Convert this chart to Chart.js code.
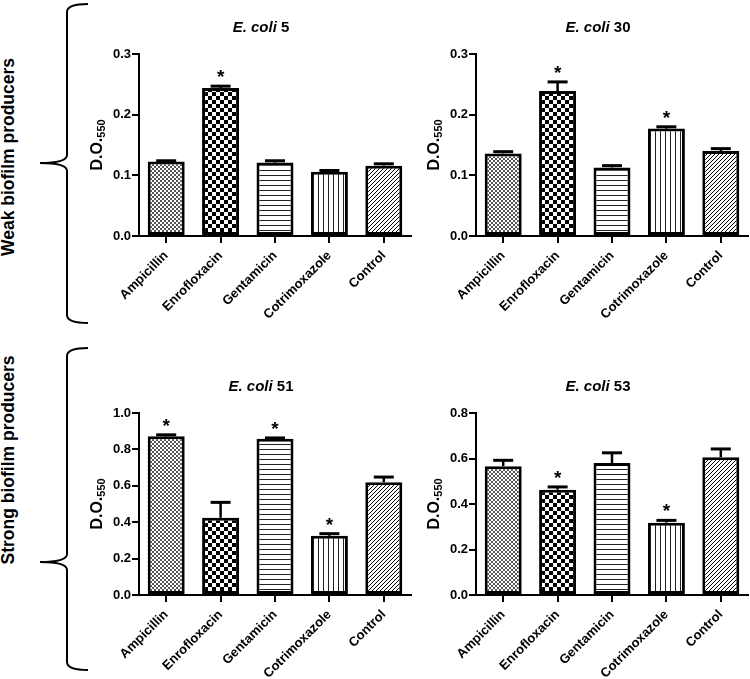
<!DOCTYPE html>
<html>
<head>
<meta charset="utf-8">
<script src="https://cdn.jsdelivr.net/npm/chart.js@4.4.1/dist/chart.umd.min.js"></script>
<style>
  html, body { margin: 0; padding: 0; background: #fff; overflow: hidden; }
  #wrap { position: relative; width: 750px; height: 679px; }
  canvas { position: absolute; }
  svg { position: absolute; left: 0; top: 0; }
</style>
</head>
<body>
<div id="wrap">
  <svg width="90" height="679">
    <path d="M88 4 Q67 4 67 12 L67 155 Q67 163 40 163 Q67 163 67 171 L67 315 Q67 323 88 323" fill="none" stroke="#000" stroke-width="2"/>
    <path d="M88 348 Q67 348 67 356 L67 554 Q67 562 40 562 Q67 562 67 570 L67 662 Q67 670 88 670" fill="none" stroke="#000" stroke-width="2"/>
    <text transform="translate(14,157) rotate(-90)" text-anchor="middle" font-family="Liberation Sans, Arial, sans-serif" font-weight="bold" font-size="17.5">Weak biofilm producers</text>
    <text transform="translate(14,460) rotate(-90)" text-anchor="middle" font-family="Liberation Sans, Arial, sans-serif" font-weight="bold" font-size="17.5">Strong biofilm producers</text>
  </svg>
  <canvas id="c5" width="330" height="326" style="left:88px;top:0px"></canvas>
  <canvas id="c30" width="325" height="326" style="left:425px;top:0px"></canvas>
  <canvas id="c51" width="330" height="326" style="left:88px;top:359px"></canvas>
  <canvas id="c53" width="325" height="326" style="left:425px;top:359px"></canvas>
</div>
<script>
// treatments
const drugs = ['Ampicillin', 'Enrofloxacin', 'Gentamicin', 'Cotrimoxazole', 'Control'];

// D.O.550 means, SEM and significance per strain
const ecoli5 = [0.123, 0.244, 0.121, 0.106, 0.116];
const ecoli5Err = [0.001, 0.003, 0.003, 0.002, 0.003];
const ecoli5Star = [false, true, false, false, false];

const ecoli30 = [0.136, 0.239, 0.113, 0.177, 0.140];
const ecoli30Err = [0.003, 0.015, 0.003, 0.003, 0.004];
const ecoli30Star = [false, true, false, true, false];

const ecoli51 = [0.872, 0.424, 0.858, 0.325, 0.620];
const ecoli51Err = [0.008, 0.085, 0.005, 0.012, 0.028];
const ecoli51Star = [true, false, true, true, false];

const ecoli53 = [0.566, 0.463, 0.580, 0.318, 0.606];
const ecoli53Err = [0.026, 0.012, 0.045, 0.010, 0.036];
const ecoli53Star = [false, true, false, true, false];

const FONT = "'Liberation Sans', Arial, sans-serif";
Chart.defaults.font.family = FONT;
Chart.defaults.color = '#000';

function tile(size, draw) {
  const c = document.createElement('canvas');
  c.width = size;
  c.height = size;
  const g = c.getContext('2d');
  g.fillStyle = '#fff';
  g.fillRect(0, 0, size, size);
  g.fillStyle = '#000';
  draw(g, size);
  return g.createPattern(c, 'repeat');
}

const fills = [
  tile(4, (g) => { g.fillStyle = '#555'; g.fillRect(0, 0, 2, 2); g.fillRect(2, 2, 2, 2); }),
  tile(8, (g) => { g.fillRect(0, 0, 4, 4); g.fillRect(4, 4, 4, 4); }),
  tile(5, (g) => { g.fillStyle = '#222'; g.fillRect(0, 0, 5, 1); }),
  tile(5, (g) => { g.fillStyle = '#222'; g.fillRect(0, 0, 1, 5); }),
  tile(4, (g) => { for (let i = 0; i < 4; i++) g.fillRect(i, 3 - i, 1, 1); }),
];

// title, y label, error bars and asterisks
const extras = {
  id: 'extras',
  afterDraw(chart, args, opts) {
    const ctx = chart.ctx;
    const area = chart.chartArea;
    const y = chart.scales.y;
    const meta = chart.getDatasetMeta(0);
    ctx.save();
    ctx.fillStyle = '#000';
    ctx.strokeStyle = '#000';

    // title
    ctx.textBaseline = 'middle';
    ctx.textAlign = 'left';
    ctx.font = 'italic bold 15px ' + FONT;
    const w1 = ctx.measureText('E. coli').width;
    ctx.font = 'bold 15px ' + FONT;
    const rest = ' ' + opts.strain;
    const w2 = ctx.measureText(rest).width;
    const tx = area.left + 122 - (w1 + w2) / 2;
    const ty = area.top - 26;
    ctx.font = 'italic bold 15px ' + FONT;
    ctx.fillText('E. coli', tx, ty);
    ctx.font = 'bold 15px ' + FONT;
    ctx.fillText(rest, tx + w1, ty);

    // y axis label D.O.550
    ctx.save();
    ctx.translate(area.left - 41, (area.top + area.bottom) / 2);
    ctx.rotate(-Math.PI / 2);
    ctx.font = 'bold 16px ' + FONT;
    const a = ctx.measureText('D.O.').width;
    ctx.font = 'bold 11px ' + FONT;
    const b = ctx.measureText('550').width;
    ctx.textBaseline = 'middle';
    ctx.font = 'bold 16px ' + FONT;
    ctx.fillText('D.O.', -(a + b) / 2, 0);
    ctx.font = 'bold 11px ' + FONT;
    ctx.fillText('550', -(a + b) / 2 + a, 4);
    ctx.restore();

    // error bars
    ctx.lineWidth = 2.5;
    ctx.textAlign = 'center';
    ctx.textBaseline = 'alphabetic';
    ctx.font = 'bold 19px ' + FONT;
    meta.data.forEach((bar, i) => {
      const top = y.getPixelForValue(opts.means[i] + opts.errs[i]);
      const base = y.getPixelForValue(opts.means[i]);
      ctx.beginPath();
      ctx.moveTo(bar.x, base);
      ctx.lineTo(bar.x, top);
      ctx.stroke();
      ctx.lineWidth = 3;
      ctx.beginPath();
      ctx.moveTo(bar.x - 10, top);
      ctx.lineTo(bar.x + 10, top);
      ctx.stroke();
      ctx.lineWidth = 2.5;
      if (opts.stars[i]) {
        ctx.fillText('*', bar.x, top - 3);
      }
    });
    ctx.restore();
  },
};

function makeChart(id, strain, means, errs, stars, yMax) {
  return new Chart(document.getElementById(id), {
    type: 'bar',
    data: {
      labels: drugs,
      datasets: [{
        data: means,
        backgroundColor: fills,
        borderColor: '#000',
        borderWidth: 3,
        borderSkipped: false,
        categoryPercentage: 1,
        barPercentage: 0.68,
      }],
    },
    options: {
      responsive: false,
      animation: false,
      layout: { padding: { top: 54, right: id === 'c5' || id === 'c51' ? 7 : 2 } },
      plugins: {
        legend: { display: false },
        tooltip: { enabled: false },
        title: { display: false },
        extras: { strain, means, errs, stars },
      },
      scales: {
        x: {
          offset: true,
          grid: { offset: false, drawOnChartArea: false, tickLength: 7, color: '#000', lineWidth: 2 },
          border: { color: '#000', width: 2 },
          ticks: { maxRotation: 45, minRotation: 45, autoSkip: false, padding: 5, font: { size: 13, weight: 'bold' } },
          afterFit: (s) => { s.height = 90; },
        },
        y: {
          min: 0,
          max: yMax,
          grid: { drawOnChartArea: false, tickLength: 7, color: '#000', lineWidth: 2 },
          border: { color: '#000', width: 2 },
          ticks: {
            stepSize: yMax > 0.5 ? 0.2 : 0.1,
            padding: 1,
            font: { size: 13, weight: 'bold' },
            callback: (v) => v.toFixed(1),
          },
          afterFit: (s) => { s.width = 51; },
        },
      },
    },
    plugins: [extras],
  });
}

makeChart('c5', '5', ecoli5, ecoli5Err, ecoli5Star, 0.3);
makeChart('c30', '30', ecoli30, ecoli30Err, ecoli30Star, 0.3);
makeChart('c51', '51', ecoli51, ecoli51Err, ecoli51Star, 1.0);
makeChart('c53', '53', ecoli53, ecoli53Err, ecoli53Star, 0.8);
</script>
</body>
</html>
